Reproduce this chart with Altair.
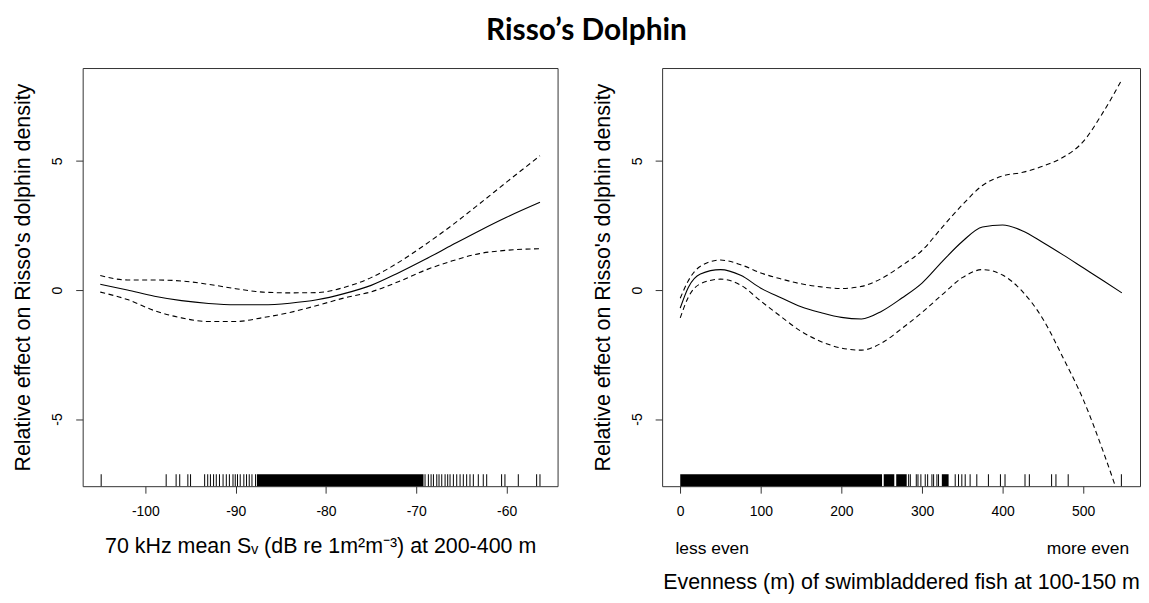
import altair as alt
import pandas as pd

# ---------------- data: left panel (70 kHz mean Sv) ----------------
sv_x = [-105, -102, -99, -96, -93, -90, -87, -84, -81, -78, -75, -72, -69, -66, -63, -60, -56.3]
sv_fit = [0.22, 0.0, -0.24, -0.41, -0.52, -0.57, -0.57, -0.51, -0.38, -0.14, 0.18, 0.66, 1.19, 1.75, 2.30, 2.82, 3.40]
sv_upper = [0.56, 0.39, 0.39, 0.35, 0.22, 0.05, -0.08, -0.11, -0.10, 0.10, 0.48, 1.06, 1.76, 2.52, 3.34, 4.18, 5.20]
sv_lower = [-0.08, -0.37, -0.80, -1.08, -1.22, -1.22, -1.07, -0.87, -0.60, -0.31, -0.07, 0.32, 0.77, 1.13, 1.41, 1.54, 1.60]
sv_rug = [-104.9, -97.7, -96.6, -96.2, -95.3, -95.0, -93.44, -93.1, -92.8, -92.45, -92.15, -91.8,
          -91.4, -91.04, -90.7, -90.3, -90.05, -89.8, -89.5, -89.1, -88.8, -88.5, -88.2, -87.8,
          -69.03, -68.66, -68.36, -68.1, -67.73, -67.48, -67.18, -66.81, -66.52, -66.26, -65.89,
          -65.52, -65.15, -64.79, -64.42, -64.05, -63.68, -63.13, -62.58, -62.2, -60.55, -60.18,
          -58.7, -56.67, -56.3]
sv_rug_start = [-87.65]
sv_rug_end = [-69.2]
sv_ticks = [-100, -90, -80, -70, -60]

# ---------------- data: right panel (evenness) ----------------
ev_x = [0, 10, 25, 50, 75, 100, 125, 150, 175, 200, 225, 250, 275, 300, 325, 350, 375, 400, 425, 450, 475, 500, 525, 548]
ev_fit = [-0.70, 0.10, 0.62, 0.79, 0.57, 0.07, -0.30, -0.65, -0.88, -1.06, -1.12, -0.82, -0.31, 0.27, 1.10, 1.88,
          2.44, 2.52, 2.29, 1.84, 1.36, 0.86, 0.36, -0.11]
ev_upper = [-0.32, 0.36, 0.92, 1.16, 0.98, 0.66, 0.43, 0.24, 0.12, 0.06, 0.14, 0.45, 0.95, 1.53, 2.43, 3.30,
            4.05, 4.42, 4.56, 4.80, 5.14, 5.75, 6.90, 8.15]
ev_lower = [-1.08, -0.28, 0.24, 0.42, 0.19, -0.43, -1.03, -1.60, -2.00, -2.25, -2.33, -2.05, -1.49, -0.87, -0.18,
            0.48, 0.79, 0.58, -0.07, -1.12, -2.62, -4.24, -6.27, -8.35]
ev_rug = [283.4, 285.5, 292.9, 295.0, 298.6, 304.0, 307.0, 312.3, 314.4, 318.5, 320.5, 341.2, 345.3, 349.4,
          353.6, 359.7, 368.0, 382.4, 397.3, 403.0, 427.8, 433.2, 460.8, 466.2, 481.4, 547.4]
ev_rug_start = [0, 252.5, 268.0, 324.6]
ev_rug_end = [250.4, 265.6, 281.0, 333.0]
ev_ticks = [0, 100, 200, 300, 400, 500]
ev_end_labels = ["less even", "more even"]
ev_end_x = [-6, 557]

Y_TICKS = [-5, 0, 5]
Y_DOMAIN = [-7.6, 8.6]
Y_TITLE = "Relative effect on Risso's dolphin density"
FONT = "Liberation Sans"

H = 420
RUG = 12
DASH = [5, 3.5]


def panel(x, fit, upper, lower, xdom, xticks, xtitle, title_pad, width, rug, rs, re):
    df = pd.DataFrame({"x": x, "fit": fit, "upper": upper, "lower": lower})
    xs = alt.Scale(domain=xdom, nice=False, zero=False)
    ys = alt.Scale(domain=Y_DOMAIN, nice=False, zero=False)
    xaxis = alt.Axis(values=xticks, title=xtitle, labelExpr="'' + datum.value", titlePadding=title_pad)
    yaxis = alt.Axis(values=Y_TICKS, title=Y_TITLE, labelExpr="'' + datum.value")
    base = alt.Chart(df)
    fit_l = base.mark_line(color="black", strokeWidth=1.1, interpolate="monotone", clip=True).encode(
        x=alt.X("x:Q", scale=xs, axis=xaxis),
        y=alt.Y("fit:Q", scale=ys, axis=yaxis),
    )
    up_l = base.mark_line(color="black", strokeWidth=1.1, strokeDash=DASH, interpolate="monotone", clip=True).encode(
        x=alt.X("x:Q", scale=xs), y=alt.Y("upper:Q", scale=ys))
    lo_l = base.mark_line(color="black", strokeWidth=1.1, strokeDash=DASH, interpolate="monotone", clip=True).encode(
        x=alt.X("x:Q", scale=xs), y=alt.Y("lower:Q", scale=ys))
    rug_t = alt.Chart(pd.DataFrame({"r": rug})).mark_rule(color="black", strokeWidth=1).encode(
        x=alt.X("r:Q", scale=xs), y=alt.value(H), y2=alt.value(H - RUG))
    rug_b = alt.Chart(pd.DataFrame({"s": rs, "e": re})).mark_rect(color="black").encode(
        x=alt.X("s:Q", scale=xs), x2="e:Q", y=alt.value(H), y2=alt.value(H - RUG))
    return [fit_l, up_l, lo_l, rug_t, rug_b], xs, width


left_layers, _, wl = panel(sv_x, sv_fit, sv_upper, sv_lower, [-106.95, -54.35], sv_ticks,
                           "70 kHz mean S\u1d65 (dB re 1m\u00b2m\u207b\u00b3) at 200-400 m", 18, 477,
                           sv_rug, sv_rug_start, sv_rug_end)
left = alt.layer(*left_layers).properties(width=wl, height=H)

right_layers, xs_r, wr = panel(ev_x, ev_fit, ev_upper, ev_lower, [-22.5, 570.5], ev_ticks,
                               "Evenness (m) of swimbladdered fish at 100-150 m", 54, 480,
                               ev_rug, ev_rug_start, ev_rug_end)
lab_df = pd.DataFrame({"x": ev_end_x, "t": ev_end_labels})
less_t = alt.Chart(lab_df.iloc[[0]]).mark_text(align="left", baseline="middle", font=FONT, fontSize=17.5,
                                                color="black").encode(
    x=alt.X("x:Q", scale=xs_r), y=alt.value(H + 63), text="t:N")
more_t = alt.Chart(lab_df.iloc[[1]]).mark_text(align="right", baseline="middle", font=FONT, fontSize=17.5,
                                                color="black").encode(
    x=alt.X("x:Q", scale=xs_r), y=alt.value(H + 63), text="t:N")
right = alt.layer(*right_layers, less_t, more_t).properties(width=wr, height=H)

chart = alt.hconcat(left, right, spacing=33).properties(
    title=alt.TitleParams("Risso\u2019s Dolphin", font="Lato", fontSize=30, fontWeight="bold",
                          anchor="middle", color="black", offset=22, dx=10),
    padding={"left": 4, "top": 6, "right": 0, "bottom": 0},
).configure(background="white").configure_view(stroke="#333333", strokeWidth=1).configure_axis(
    domain=False, grid=False, tickColor="#333333", tickSize=7, tickWidth=1,
    labelFont=FONT, labelFontSize=14, labelColor="black",
    titleFont=FONT, titleFontSize=21.5, titleFontWeight="normal", titleColor="black",
).configure_axisX(labelPadding=11).configure_axisY(
    labelAngle=270, labelAlign="center", labelBaseline="alphabetic", labelPadding=14, titlePadding=16,
)

chart.save("out.html", embed_options={"renderer": "svg", "actions": False})
